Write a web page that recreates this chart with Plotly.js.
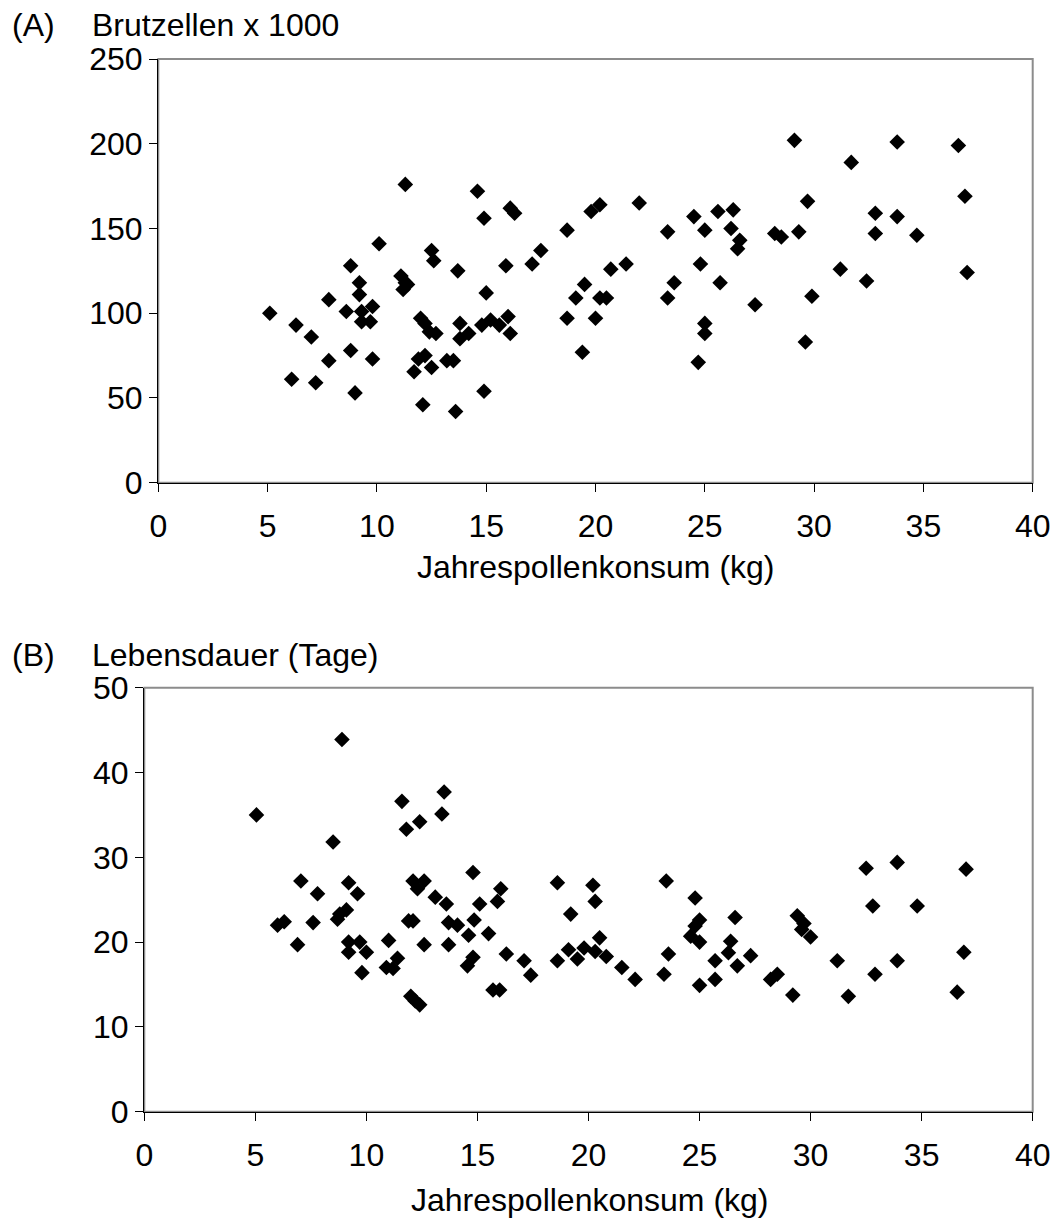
<!DOCTYPE html>
<html>
<head>
<meta charset="utf-8">
<script src="https://cdn.plot.ly/plotly-3.0.1.min.js"></script>
<style>html,body{margin:0;padding:0;background:#fff;}#chart{width:1058px;height:1218px;}</style>
</head>
<body>
<div id="chart"></div>
<script>
// Panel A: Jahrespollenkonsum (kg) vs Brutzellen x 1000
const pollenA = [5.1, 6.3, 6.1, 7.0, 7.2, 7.8, 7.8, 8.6, 8.8, 8.8,
  9.0, 9.2, 9.2, 9.3, 9.3, 9.7, 9.8, 9.8, 10.1, 11.3,
  11.1, 11.3, 11.4, 11.2, 12.0, 12.2, 12.4, 12.7, 12.5, 12.6,
  11.9, 12.2, 11.7, 12.5, 12.1, 13.7, 13.8, 13.8, 14.2, 13.2,
  13.5, 13.6, 14.6, 14.9, 15.0, 14.8, 15.2, 14.9, 15.6, 16.0,
  16.1, 15.9, 16.1, 16.3, 17.1, 17.5, 18.7, 18.7, 19.1, 19.5,
  19.4, 19.8,
  20.2, 20.2, 20.5, 20.0, 20.7, 21.4, 22.0, 23.3, 23.6, 23.3,
  24.5, 25.0, 24.8, 25.7, 25.6, 26.3, 26.2, 26.6, 26.5, 25.0,
  25.0, 24.7, 27.3, 28.2, 28.5, 29.1, 29.3, 29.7, 29.9, 29.6,
  31.2, 31.7, 32.4, 32.8, 32.8, 33.8, 33.8, 34.7, 36.6, 36.9, 37.0];
const brutzellen = [100, 93, 61, 86, 59, 108, 72, 101, 128, 78,
  53, 118, 111, 101, 95, 95, 104, 73, 141, 176,
  122, 118, 117, 114, 97, 94, 89, 88, 137, 131,
  73, 75, 65.5, 68, 46, 125, 94, 85, 88, 72,
  72, 42, 172, 156, 112, 93, 96, 54, 93, 98,
  88, 128, 162, 159, 129, 137, 149, 97, 109, 117,
  77, 160,
  164, 109, 109, 97, 126, 129, 165, 148, 118, 109,
  157, 149, 129, 118, 160, 161, 150, 143, 138, 94,
  88, 71, 105, 147, 145, 202, 148, 166, 110, 83,
  126, 189, 119, 159, 147, 201, 157, 146, 199, 169, 124];

// Panel B: Jahrespollenkonsum (kg) vs Lebensdauer (Tage)
const pollenB = [5.05, 6.0, 6.3, 6.9, 7.05, 7.8, 7.6, 8.5, 8.9, 9.2,
  9.6, 8.7, 8.8, 9.1, 9.2, 9.7, 9.2, 10.0, 9.8, 11.0,
  10.9, 11.2, 11.4, 11.6, 11.8, 12.4, 11.9, 12.1, 12.1, 12.3,
  12.6, 12.6, 12.0, 12.2, 12.4, 13.5, 13.4, 13.1, 13.6, 13.7,
  14.1, 13.7, 14.8, 15.1, 14.85, 14.6, 14.8, 14.55, 15.5, 16.05,
  15.9, 16.3, 15.7, 16.0, 17.1, 17.4, 18.6, 18.6, 19.2, 19.1,
  19.5, 19.8, 20.2, 20.3, 20.3, 20.5, 20.8, 21.5, 22.1, 23.5,
  23.6, 23.4, 24.8, 25.0, 24.8, 24.6, 25.0, 25.0, 25.7, 25.7,
  26.4, 26.3, 26.6, 26.7, 27.3, 28.2, 28.5, 29.2, 29.4, 29.7,
  29.6, 30.0, 31.2, 31.7, 32.5, 32.8, 32.9, 33.9, 33.9, 34.8,
  37.0, 36.9, 36.6];
const lebensdauer = [35, 22, 22.4, 19.7, 27.2, 25.7, 22.3, 31.8, 43.9, 27,
  25.7, 22.7, 23.3, 23.8, 20, 20, 18.8, 18.8, 16.4, 20.2,
  17, 16.9, 18.1, 36.6, 33.3, 34.2, 22.5, 22.5, 27.2, 26.3,
  27.2, 19.7, 13.6, 13.05, 12.6, 37.7, 35.1, 25.3, 24.5, 22.3,
  22, 19.7, 28.2, 24.5, 22.6, 20.8, 18.2, 17.2, 21, 26.3,
  24.8, 18.6, 14.35, 14.35, 17.8, 16.1, 27, 17.8, 23.3, 19.1,
  18.0, 19.3, 26.7, 24.8, 18.9, 20.5, 18.3, 17, 15.6, 27.2,
  18.6, 16.2, 25.2, 22.6, 21.9, 20.7, 20.0, 14.9, 17.8, 15.6,
  20.1, 18.75, 22.9, 17.2, 18.4, 15.6, 16.2, 13.75, 23.1, 22.2,
  21.5, 20.6, 17.8, 13.6, 28.7, 24.25, 16.2, 29.4, 17.8, 24.25,
  28.6, 18.8, 14.1];

const xTicks = [0, 5, 10, 15, 20, 25, 30, 35, 40];
const yTicksA = [0, 50, 100, 150, 200, 250];
const yTicksB = [0, 10, 20, 30, 40, 50];

const W = 1058, H = 1218;
const FONT = 'Liberation Sans, Arial, Helvetica, sans-serif';
const FS = 32;
const px = v => v / W;
const py = v => 1 - v / H;

const marker = {symbol: 'diamond', size: 12, color: '#000000', line: {width: 0}};

const traces = [
  {x: pollenA, y: brutzellen, type: 'scatter', mode: 'markers', marker: marker, xaxis: 'x', yaxis: 'y', hoverinfo: 'x+y'},
  {x: pollenB, y: lebensdauer, type: 'scatter', mode: 'markers', marker: marker, xaxis: 'x2', yaxis: 'y2', hoverinfo: 'x+y'}
];

function xax(domain, anchor) {
  return {
    domain: domain, anchor: anchor, range: [0, 40], tickvals: xTicks,
    showgrid: false, zeroline: false, showline: true, linecolor: '#000000', linewidth: 1.3,
    ticks: 'outside', ticklen: 8, tickwidth: 1, tickcolor: '#000000',
    ticklabelstandoff: 7,
    tickfont: {family: FONT, size: FS, color: '#000000'}
  };
}
function yax(domain, anchor, range, vals) {
  return {
    domain: domain, anchor: anchor, range: range, tickvals: vals,
    showgrid: false, zeroline: false, showline: true, linecolor: '#000000', linewidth: 1.3,
    ticks: 'outside', ticklen: 8, tickwidth: 1, tickcolor: '#000000',
    ticklabelstandoff: 0,
    tickfont: {family: FONT, size: FS, color: '#000000'}
  };
}

const layout = {
  width: W, height: H,
  margin: {l: 0, r: 0, t: 0, b: 0, pad: 0},
  paper_bgcolor: '#ffffff', plot_bgcolor: '#ffffff',
  showlegend: false,
  font: {family: FONT, size: FS, color: '#000000'},
  xaxis: xax([px(158.3), px(1032.7)], 'y'),
  yaxis: yax([py(482.7), py(59)], 'x', [0, 250], yTicksA),
  xaxis2: xax([px(144.3), px(1032.7)], 'y2'),
  yaxis2: yax([py(1111.7), py(687.7)], 'x2', [0, 50], yTicksB),
  shapes: [
    {type: 'rect', xref: 'x domain', yref: 'y domain', x0: 0, x1: 1, y0: 0, y1: 1,
     line: {color: '#8c8c8c', width: 2}, layer: 'below'},
    {type: 'rect', xref: 'x2 domain', yref: 'y2 domain', x0: 0, x1: 1, y0: 0, y1: 1,
     line: {color: '#8c8c8c', width: 2}, layer: 'below'}
  ],
  annotations: [
    {text: '(A)', xref: 'paper', yref: 'paper', x: px(10), y: py(25), xanchor: 'left', yanchor: 'middle', showarrow: false, font: {family: FONT, size: FS}},
    {text: 'Brutzellen x 1000', xref: 'paper', yref: 'paper', x: px(90), y: py(25), xanchor: 'left', yanchor: 'middle', showarrow: false, font: {family: FONT, size: FS}},
    {text: 'Jahrespollenkonsum (kg)', xref: 'paper', yref: 'paper', x: px(596), y: py(567), xanchor: 'center', yanchor: 'middle', showarrow: false, font: {family: FONT, size: FS}},
    {text: '(B)', xref: 'paper', yref: 'paper', x: px(10), y: py(655), xanchor: 'left', yanchor: 'middle', showarrow: false, font: {family: FONT, size: FS}},
    {text: 'Lebensdauer (Tage)', xref: 'paper', yref: 'paper', x: px(90), y: py(655), xanchor: 'left', yanchor: 'middle', showarrow: false, font: {family: FONT, size: FS}},
    {text: 'Jahrespollenkonsum (kg)', xref: 'paper', yref: 'paper', x: px(590), y: py(1200), xanchor: 'center', yanchor: 'middle', showarrow: false, font: {family: FONT, size: FS}}
  ]
};

Plotly.newPlot('chart', traces, layout, {displayModeBar: false, staticPlot: true});
</script>
</body>
</html>
